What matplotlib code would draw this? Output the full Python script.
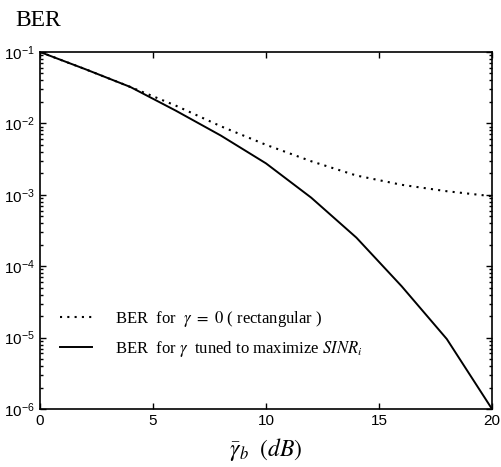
import numpy as np
import matplotlib
matplotlib.use('Agg')
import matplotlib.pyplot as plt
from matplotlib.ticker import FuncFormatter, LogLocator, NullFormatter

plt.rcParams['font.family'] = 'Liberation Serif'
plt.rcParams['mathtext.fontset'] = 'stix'

# SNR in dB
snr_db = [0, 2, 4, 6, 8, 10, 12, 14, 16, 18, 20]
# log10(BER)
log_ber_rect = [-1.0, -1.24, -1.49, -1.75, -2.04, -2.30, -2.53, -2.73, -2.86, -2.95, -3.02]
log_ber_tuned = [-1.0, -1.24, -1.49, -1.82, -2.17, -2.56, -3.04, -3.60, -4.28, -5.02, -6.0]

ber_rect = 10.0 ** np.array(log_ber_rect)
ber_tuned = 10.0 ** np.array(log_ber_tuned)

fig = plt.figure(figsize=(5.01, 4.67), dpi=100)
ax = fig.add_axes([40 / 501, 1 - 409 / 467, 452 / 501, 357 / 467])

ax.semilogy(snr_db, ber_rect, color='black', linestyle=(0, (1, 2.5)), linewidth=1.5,
            label=r'BER  for  $\mathit{\gamma}\ =\ 0$ ( rectangular )')
ax.semilogy(snr_db, ber_tuned, color='black', linestyle='-', linewidth=1.4,
            label=r'BER  for $\mathit{\gamma}$  tuned to maximize $\mathit{SINR}_{\mathit{i}}$')

ax.set_xlim(0, 20)
ax.set_ylim(1e-6, 1e-1)
ax.set_xticks([0, 5, 10, 15, 20])
ax.yaxis.set_major_locator(LogLocator(base=10, numticks=10))
ax.yaxis.set_minor_locator(LogLocator(base=10, subs=np.arange(2, 10), numticks=20))
ax.yaxis.set_minor_formatter(NullFormatter())
ax.yaxis.set_major_formatter(FuncFormatter(lambda v, p: r'$\mathregular{10^{%d}}$' % round(np.log10(v))))

ax.tick_params(which='both', direction='in', top=True, right=True,
               labelsize=11, labelfontfamily='Liberation Sans', width=1)
ax.tick_params(which='major', length=4)
ax.tick_params(which='minor', length=2)
for s in ax.spines.values():
    s.set_linewidth(1.2)

ax.set_xlabel(r'$\bar{\gamma}_{b}\ \ \mathit{(dB)}$', fontsize=17, labelpad=6)
fig.text(15 / 501, 1 - 20 / 467, 'BER', fontsize=17, va='center', ha='left')

ax.legend(loc='upper left', bbox_to_anchor=(0.03, 0.30), frameon=False, fontsize=12,
          handlelength=1.9, handletextpad=1.4, labelspacing=0.6, borderaxespad=0)

fig.savefig('out.png', dpi=100)
